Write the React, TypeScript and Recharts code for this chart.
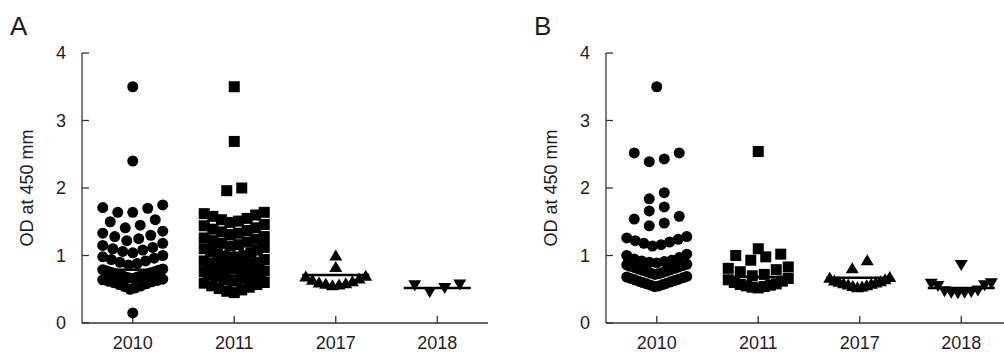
import React from 'react';
import { ScatterChart, Scatter, XAxis, YAxis } from 'recharts';

const YEARS = ['2010', '2011', '2017', '2018'];
const Y_TICKS = [0, 1, 2, 3, 4];

// panel A
const A_2010 = [0.15, 0.50, 0.52, 0.54, 0.55, 0.57, 0.58, 0.60, 0.61, 0.62, 0.63, 0.64, 0.65,
  0.66, 0.67, 0.68, 0.69, 0.70, 0.71, 0.72, 0.73, 0.74, 0.75, 0.76, 0.77, 0.78, 0.79, 0.80,
  0.86, 0.88, 0.90, 0.92, 0.94, 0.96, 0.98, 1.00, 1.04, 1.06, 1.08, 1.10, 1.12, 1.15, 1.18,
  1.22, 1.25, 1.28, 1.30, 1.33, 1.36, 1.41, 1.45, 1.50, 1.53, 1.64, 1.64, 1.70, 1.71, 1.75,
  2.40, 3.50];
const A_2011 = [0.45, 0.47, 0.49, 0.51, 0.53, 0.55, 0.57, 0.59, 0.60,
  0.62, 0.63, 0.64, 0.65, 0.66, 0.67, 0.68, 0.69, 0.70, 0.71, 0.72, 0.73, 0.74, 0.75, 0.76, 0.77,
  0.80, 0.81, 0.82, 0.83, 0.84, 0.85, 0.86, 0.87, 0.88, 0.89, 0.90, 0.92, 0.94,
  0.97, 0.98, 0.99, 1.00, 1.02, 1.04, 1.06, 1.08, 1.10, 1.12,
  1.14, 1.16, 1.18, 1.20, 1.22, 1.24, 1.26, 1.28,
  1.31, 1.33, 1.35, 1.37, 1.39, 1.41, 1.44, 1.46,
  1.49, 1.51, 1.53, 1.55, 1.58, 1.60, 1.62, 1.64,
  1.96, 2.00, 2.69, 3.50];
const A_2017 = [0.56, 0.57, 0.58, 0.59, 0.60, 0.62, 0.64, 0.66, 0.69, 0.70, 0.83, 1.00];
const A_2018 = [0.46, 0.52, 0.56, 0.57];
const A_MEANS = [0.79, 0.80, 0.71, 0.52];

// panel B
const B_2010 = [0.54, 0.55, 0.56, 0.57, 0.58, 0.59, 0.60, 0.61, 0.62, 0.63, 0.64, 0.65, 0.66, 0.67, 0.68, 0.69,
  0.72, 0.73, 0.74, 0.75, 0.76, 0.77, 0.78, 0.79, 0.80, 0.81, 0.82, 0.83, 0.84, 0.85, 0.86, 0.87,
  0.89, 0.90, 0.91, 0.92, 0.93, 0.95, 0.97, 1.00, 1.02,
  1.14, 1.16, 1.18, 1.20, 1.22, 1.24, 1.26, 1.28,
  1.44, 1.48, 1.54, 1.58, 1.66, 1.72, 1.84, 1.93,
  2.39, 2.43, 2.52, 2.52, 3.50];
const B_2011 = [0.52, 0.53, 0.54, 0.55, 0.56, 0.57, 0.58, 0.60, 0.62, 0.64, 0.66,
  0.70, 0.72, 0.76, 0.79, 0.81, 0.83, 0.93, 0.98, 1.00, 1.02, 1.10, 2.54];
const B_2017 = [0.53, 0.54, 0.55, 0.56, 0.57, 0.58, 0.59, 0.60, 0.61, 0.62, 0.63, 0.65, 0.67, 0.68,
  0.81, 0.93];
const B_2018 = [0.44, 0.45, 0.45, 0.46, 0.47, 0.48, 0.55, 0.56, 0.58, 0.59, 0.86];
const B_MEANS = [0.92, 0.68, 0.67, 0.52];

const CHART_W = 500;
const CHART_H = 361;
const PLOT_W = 406;
const BAND_PX = PLOT_W / 4;
const SPACING = 15;
const MAX_HALF = 30;
const ROW_H = 0.155;
const INK = '#000';
const TEXT = '#1e1e1e';
const AXIS = '#333';

// prism-like column scatter: group sorted values into rows, spread each row round the centre
function swarm(values: number[], cat: number) {
  const sorted = [...values].sort((a, b) => a - b);
  const rows: number[][] = [];
  for (const v of sorted) {
    const row = rows[rows.length - 1];
    if (row && v - row[0] < ROW_H) row.push(v);
    else rows.push([v]);
  }
  const pts: { x: number; y: number }[] = [];
  rows.forEach((row) => {
    const n = row.length;
    const step = n > 1 ? Math.min(SPACING, (2 * MAX_HALF) / (n - 1)) : 0;
    const slots = Array.from({ length: n }, (_, k) => (k - (n - 1) / 2) * step);
    slots.sort((a, b) => Math.abs(a) - Math.abs(b) || a - b);
    row.forEach((v, k) => pts.push({ x: cat + slots[k] / BAND_PX, y: v }));
  });
  return pts;
}

const circle = (p: any) => <circle cx={p.cx} cy={p.cy} r={5.5} fill={INK} />;
const square = (p: any) => <rect x={p.cx - 5.5} y={p.cy - 5.5} width={11} height={11} fill={INK} />;
const triUp = (p: any) => (
  <path d={`M${p.cx},${p.cy - 6} L${p.cx + 6.5},${p.cy + 5} L${p.cx - 6.5},${p.cy + 5} Z`} fill={INK} />
);
const triDown = (p: any) => (
  <path d={`M${p.cx - 6.5},${p.cy - 5} L${p.cx + 6.5},${p.cy - 5} L${p.cx},${p.cy + 6} Z`} fill={INK} />
);
const meanBar = (p: any) => (
  <line x1={p.cx - 33.5} x2={p.cx + 33.5} y1={p.cy} y2={p.cy} stroke={INK} strokeWidth={2.5} />
);

const SHAPES = [circle, square, triUp, triDown];

function yLabel({ viewBox }: any) {
  const cx = viewBox.x + 5;
  const cy = viewBox.y + viewBox.height / 2;
  return (
    <text x={cx} y={cy} transform={`rotate(-90 ${cx} ${cy})`} textAnchor="middle"
      dominantBaseline="central" fontSize={18} fill={TEXT}>
      OD at 450 mm
    </text>
  );
}

function Panel({ letter, groups, means, left }: { letter: string; groups: number[][]; means: number[]; left: number }) {
  return (
    <div style={{ position: 'absolute', left, top: 0, width: CHART_W, height: CHART_H }}>
      <div style={{ position: 'absolute', left: 10, top: 11, fontSize: 26, color: TEXT, lineHeight: '30px' }}>{letter}</div>
      <ScatterChart width={CHART_W} height={CHART_H} margin={{ top: 53, right: CHART_W - 82 - PLOT_W, left: 22, bottom: 0 }}>
        <XAxis type="number" dataKey="x" domain={[-0.5, 3.5]} ticks={[0, 1, 2, 3]}
          tickFormatter={(v) => YEARS[v] ?? ''} height={38} tickSize={-7} tickMargin={20}
          axisLine={{ stroke: AXIS, strokeWidth: 1.3 }} tickLine={{ stroke: AXIS, strokeWidth: 1.3 }}
          tick={{ fill: TEXT, fontSize: 18 }} allowDataOverflow />
        <YAxis type="number" dataKey="y" domain={[0, 4]} ticks={Y_TICKS} width={60}
          tickSize={-7} tickMargin={23}
          axisLine={{ stroke: AXIS, strokeWidth: 1.3 }} tickLine={{ stroke: AXIS, strokeWidth: 1.3 }}
          tick={{ fill: TEXT, fontSize: 18 }} label={{ content: yLabel }} allowDataOverflow />
        {groups.map((g, i) => (
          <Scatter key={`s-${i}`} data={swarm(g, i)} shape={SHAPES[i]} isAnimationActive={false} />
        ))}
        <Scatter data={means.map((m, i) => ({ x: i, y: m }))} shape={meanBar} isAnimationActive={false} />
      </ScatterChart>
    </div>
  );
}

export default function App() {
  return (
    <div style={{ position: 'absolute', left: 0, top: 0, width: 1004, height: 361, overflow: 'hidden',
      background: '#fff', fontFamily: '"Liberation Sans", Arial, sans-serif' }}>
      <Panel letter="A" groups={[A_2010, A_2011, A_2017, A_2018]} means={A_MEANS} left={0} />
      <Panel letter="B" groups={[B_2010, B_2011, B_2017, B_2018]} means={B_MEANS} left={524} />
    </div>
  );
}
